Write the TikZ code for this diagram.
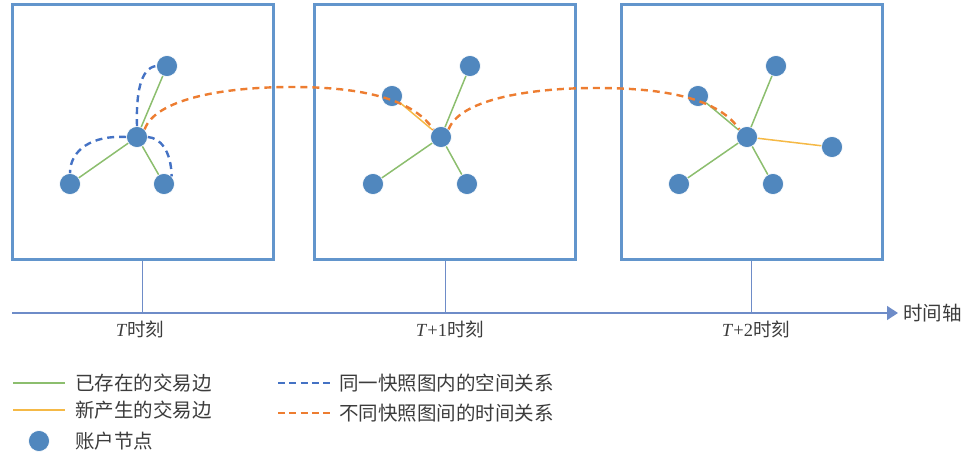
\documentclass[tikz,border=0pt]{standalone}
\usepackage{fontspec}
\setmainfont{Liberation Serif}
\newfontfamily\cjk{Noto Sans CJK SC}
\usetikzlibrary{arrows.meta}
\definecolor{boxblue}{RGB}{98,149,204}
\definecolor{nodeblue}{RGB}{80,135,190}
\definecolor{edgegreen}{RGB}{140,190,110}
\definecolor{edgenew}{RGB}{245,185,70}
\definecolor{dashorange}{RGB}{237,125,49}
\definecolor{dashblue}{RGB}{68,114,196}
\definecolor{axisblue}{RGB}{110,140,200}
\definecolor{txt}{RGB}{60,60,60}
\tikzset{
  snap/.style={draw=boxblue, line width=3pt, minimum width=261pt, minimum height=254pt, inner sep=0pt},
  acct/.style={circle, fill=nodeblue, draw=white, line width=0.6pt, minimum size=21pt, inner sep=0pt},
  oldedge/.style={draw=edgegreen, line width=1.5pt},
  newedge/.style={draw=edgenew, line width=1.5pt},
  spacedash/.style={draw=dashblue, line width=2.4pt, dash pattern=on 7pt off 5pt},
  timedash/.style={draw=dashorange, line width=2.4pt, dash pattern=on 7pt off 5pt},
  axisline/.style={draw=axisblue, line width=1.3pt},
  tickline/.style={draw=axisblue, line width=1pt},
  timelabel/.style={text=txt, font=\fontsize{18.5}{18.5}\selectfont, inner sep=0pt},
  legtext/.style={text=txt, font=\fontsize{19.5}{19.5}\selectfont\cjk, anchor=west, inner sep=0pt}
}
\begin{document}
\begin{tikzpicture}[x=1pt,y=-1pt]
\useasboundingbox (0,0) rectangle (966,452);
% snapshot boxes
\node[snap] (b1) at (142.5,132) {};
\node[snap] (b2) at (445,132) {};
\node[snap] (b3) at (751.5,132) {};
% box 1 nodes
\node[acct] (t1) at (167,66) {};
\node[acct] (c1) at (137,137) {};
\node[acct] (l1) at (70,184) {};
\node[acct] (r1) at (164,184) {};
% box 2 nodes
\node[acct] (t2) at (470,66) {};
\node[acct] (u2) at (392,96) {};
\node[acct] (c2) at (441,137) {};
\node[acct] (l2) at (373,184) {};
\node[acct] (r2) at (467,184) {};
% box 3 nodes
\node[acct] (t3) at (776,66) {};
\node[acct] (u3) at (698,96) {};
\node[acct] (c3) at (747,137) {};
\node[acct] (l3) at (679,184) {};
\node[acct] (r3) at (773,184) {};
\node[acct] (f3) at (832,147) {};
% edges
\draw[oldedge] (c1) -- (t1);
\draw[oldedge] (c1) -- (l1);
\draw[oldedge] (c1) -- (r1);
\draw[oldedge] (c2) -- (t2);
\draw[oldedge] (c2) -- (l2);
\draw[oldedge] (c2) -- (r2);
\draw[newedge] (c2) -- (u2);
\draw[oldedge] (c3) -- (t3);
\draw[oldedge] (c3) -- (l3);
\draw[oldedge] (c3) -- (r3);
\draw[oldedge] (c3) -- (u3);
\draw[newedge] (c3) -- (f3);
% spatial relations in box 1
\draw[spacedash] (c1.north) .. controls (136,95) and (140,68) .. (t1.west);
\draw[spacedash] (c1.west) .. controls (92,135) and (70,150) .. (l1.north);
\draw[spacedash] (c1.east) .. controls (160,138) and (171,150) .. (r1.north east);
% temporal relations
\coordinate (p1) at (292,87);
\coordinate (p2) at (596,88);
\draw[timedash] (c1.north east) .. controls (155,100) and (220,87) .. (p1)
   .. controls (350,87) and (410,95) .. (c2.north west);
\draw[timedash] (c2.north east) .. controls (459,101) and (524,88) .. (p2)
   .. controls (654,88) and (716,95) .. (c3.north west);
% time axis
\coordinate (ax0) at (12,313);
\coordinate (ax1) at (898,313);
\draw[axisline, -{Triangle[length=11pt,width=14pt]}] (ax0) -- (ax1);
\node[legtext] (axl) at (903,313) {时间轴};
\draw[tickline] (b1.south) -- (b1.south |- ax0);
\draw[tickline] (b2.south) -- (b2.south |- ax0);
\draw[tickline] (b3.south) -- (b3.south |- ax0);
\node[timelabel] (tl1) at (140,329) {\textit{T}{\cjk 时刻}};
\node[timelabel] (tl2) at (450,329) {\textit{T}+1{\cjk 时刻}};
\node[timelabel] (tl3) at (756,329) {\textit{T}+2{\cjk 时刻}};
% legend
\coordinate (g0) at (13,383); \coordinate (g1) at (65,383);
\draw[oldedge] (g0) -- (g1);
\node[legtext] (lg1) at (75,383) {已存在的交易边};
\coordinate (y0) at (13,410); \coordinate (y1) at (65,410);
\draw[newedge] (y0) -- (y1);
\node[legtext] (lg2) at (75,410) {新产生的交易边};
\node[acct] (ld) at (39,441) {};
\node[legtext] (lg3) at (75,441) {账户节点};
\coordinate (s0) at (278,383); \coordinate (s1) at (330,383);
\draw[spacedash, line width=1.8pt, dash pattern=on 7pt off 4.25pt] (s0) -- (s1);
\node[legtext] (lg4) at (339,383) {同一快照图内的空间关系};
\coordinate (o0) at (278,413); \coordinate (o1) at (330,413);
\draw[timedash, line width=1.8pt, dash pattern=on 7pt off 4.25pt] (o0) -- (o1);
\node[legtext] (lg5) at (339,413) {不同快照图间的时间关系};
\end{tikzpicture}
\end{document}
